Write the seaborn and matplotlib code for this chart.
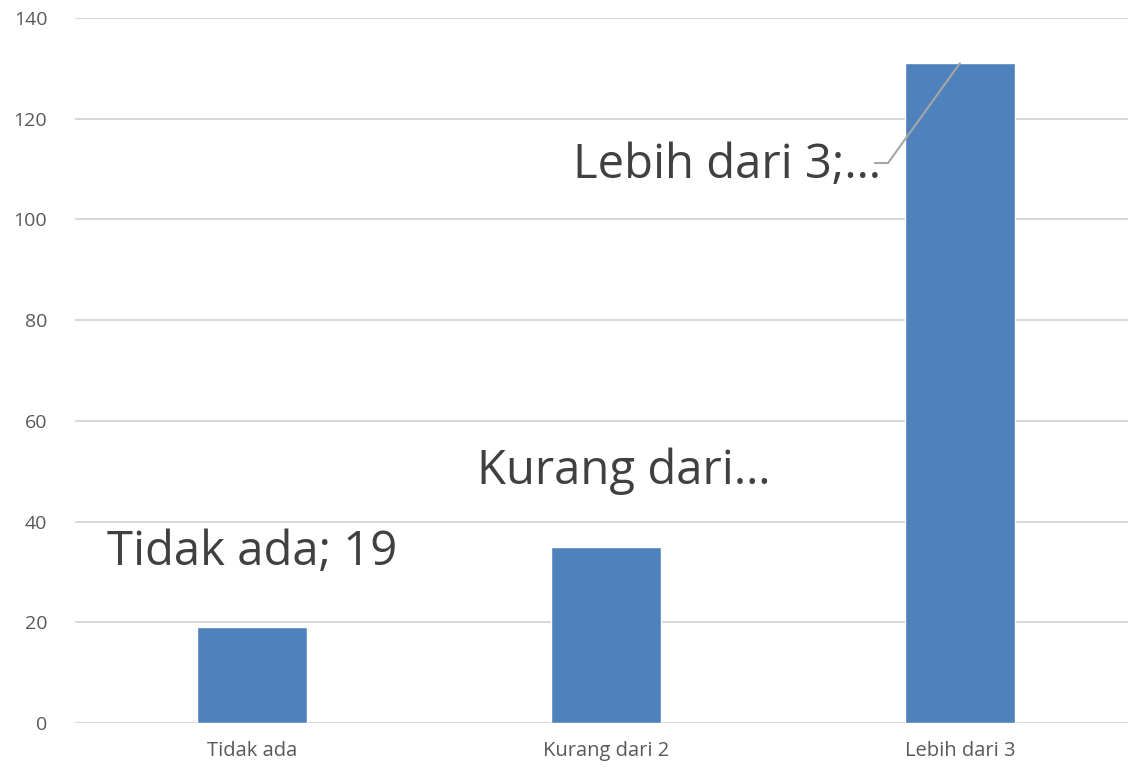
import matplotlib
matplotlib.use("Agg")
import matplotlib.pyplot as plt
import seaborn as sns
import pandas as pd

categories = ["Tidak ada", "Kurang dari 2", "Lebih dari 3"]
values = [19, 35, 131]
data_labels = ["Tidak ada; 19", "Kurang dari…", "Lebih dari 3;…"]
yticks = [0, 20, 40, 60, 80, 100, 120, 140]

sns.set_theme(style="white")
plt.rcParams["font.family"] = ["Open Sans", "DejaVu Sans"]

df = pd.DataFrame({"cat": categories, "val": values})

fig = plt.figure(figsize=(11.28, 7.67), dpi=100)
ax = fig.add_axes([75 / 1128, 44 / 767, (1128 - 75) / 1128, 705 / 767])

sns.barplot(data=df, x="cat", y="val", color="#4F81BD", saturation=1,
            width=0.31, ax=ax, zorder=3)

ax.set_xlim(-0.5, 2.475)
ax.set_ylim(0, 140)
ax.set_yticks(yticks)
ax.yaxis.grid(True, color="#D9D9D9", linewidth=1.5, zorder=0)
ax.set_axisbelow(True)
for s in ax.spines.values():
    s.set_visible(False)
ax.set_xlabel("")
ax.set_ylabel("")
ax.tick_params(axis="y", length=0, pad=20, labelsize=14, labelcolor="#595959")
ax.tick_params(axis="x", length=0, pad=13, labelsize=14.5, labelcolor="#595959")

label_pos = [(0.0, 34.0), (1.05, 50.0), (1.342, 110.8)]
for (x, y), t in zip(label_pos, data_labels):
    ax.text(x, y, t, ha="center", va="center", fontsize=34, color="#404040", zorder=5)

# leader line for the third label
ax.plot([1.76, 1.797, 2.0], [111.2, 111.2, values[2]], color="#A6A6A6",
        linewidth=1.5, zorder=4)

fig.savefig("out.png", dpi=100)
